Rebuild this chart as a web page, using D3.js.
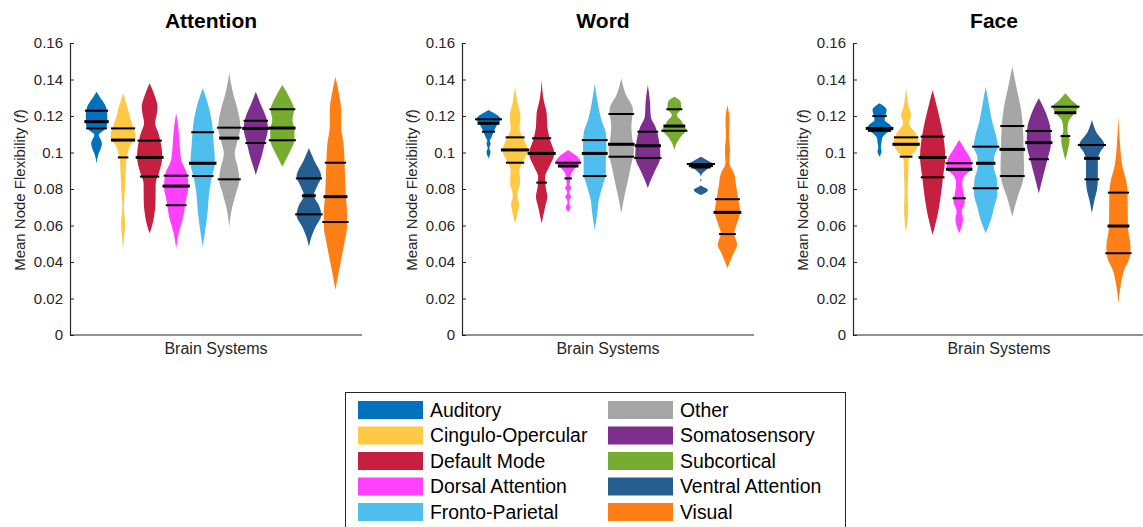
<!DOCTYPE html>
<html lang="en">
<head>
    <meta charset="UTF-8">
    <title>Mean Node Flexibility violins</title>
    <script src="https://d3js.org/d3.v7.min.js"></script>
    <style>
        body{ margin:0; background:#fff; }
        text{ font-family:"Liberation Sans", Arial, sans-serif; }
        .tick text{ fill:#262626; }
        .domain, .tick line{ stroke:#262626; }
    </style>
</head>
<body>
<script>
    // brain systems, in plot order
    const systems = ["Auditory", "Cingulo-Opercular", "Default Mode", "Dorsal Attention", "Fronto-Parietal",
        "Other", "Somatosensory", "Subcortical", "Ventral Attention", "Visual"];
    const colors = ["#0072BD", "#FFC845", "#C61F40", "#FF40FF", "#4DBEEE",
        "#A6A6A6", "#7E2F8E", "#77AC30", "#255E91", "#FF7F17"];
    const tasks = ["Attention", "Word", "Face"];
    const yTicks = [0, 0.02, 0.04, 0.06, 0.08, 0.1, 0.12, 0.14, 0.16];

    // violin outlines: [value, relative density] from bottom tip to top tip
    const attentionShapes = [
        [[0.094,0],[0.099,0.15],[0.103,0.38],[0.105,0.43],[0.1075,0.3],[0.1096,0.17],[0.112,0.55],[0.114,0.8],[0.117,0.85],[0.121,0.85],[0.125,0.75],[0.127,0.6],[0.130,0.3],[0.1333,0]],
        [[0.0457,0],[0.052,0.06],[0.058,0.14],[0.0612,0.16],[0.066,0.1],[0.070,0.06],[0.0722,0.07],[0.0813,0.16],[0.0904,0.21],[0.0975,0.3],[0.1032,0.53],[0.1087,1.0],[0.1142,0.8],[0.119,0.55],[0.1235,0.4],[0.128,0.2],[0.1324,0]],
        [[0.0557,0],[0.060,0.2],[0.0648,0.35],[0.074,0.47],[0.0831,0.48],[0.0886,0.73],[0.0977,1.0],[0.1065,0.85],[0.1105,0.7],[0.116,0.44],[0.1205,0.55],[0.1251,0.63],[0.129,0.5],[0.1336,0.27],[0.1379,0]],
        [[0.0475,0],[0.0557,0.2],[0.0648,0.56],[0.074,0.77],[0.0813,0.97],[0.0886,0.85],[0.0959,0.4],[0.105,0.27],[0.1142,0.16],[0.1215,0]],
        [[0.0484,0],[0.0593,0.24],[0.0685,0.4],[0.0776,0.5],[0.0868,0.73],[0.0941,0.97],[0.105,0.87],[0.1178,0.7],[0.127,0.4],[0.1352,0]],
        [[0.0593,0],[0.0703,0.24],[0.0776,0.53],[0.0849,0.8],[0.0904,0.72],[0.0996,0.43],[0.105,0.6],[0.1142,0.88],[0.1233,0.67],[0.1324,0.3],[0.1434,0]],
        [[0.0877,0],[0.0922,0.2],[0.0977,0.45],[0.105,0.7],[0.1132,0.96],[0.1196,0.8],[0.127,0.35],[0.1333,0]],
        [[0.0922,0],[0.0959,0.27],[0.1014,0.67],[0.1068,0.96],[0.1123,0.96],[0.1178,0.8],[0.1233,0.93],[0.1306,0.53],[0.137,0]],
        [[0.0484,0],[0.0539,0.2],[0.0593,0.53],[0.0658,0.98],[0.0703,0.84],[0.0767,0.4],[0.0813,0.64],[0.0868,0.98],[0.0959,0.4],[0.1023,0]],
        [[0.0247,0],[0.0338,0.24],[0.0411,0.45],[0.0502,0.7],[0.0593,0.92],[0.0667,0.93],[0.0758,0.83],[0.0868,0.76],[0.0959,0.72],[0.105,0.64],[0.1142,0.45],[0.1233,0.45],[0.1324,0.27],[0.1415,0]]
    ];
    const wordShapes = [
        [[0.0968,0],[0.1004,0.16],[0.1023,0.06],[0.105,0.16],[0.1065,0.1],[0.1078,0.2],[0.1114,0.4],[0.1151,0.67],[0.1182,0.95],[0.1196,0.85],[0.1215,0.45],[0.1233,0]],
        [[0.0612,0],[0.0667,0.2],[0.0722,0.32],[0.075,0.2],[0.0776,0.2],[0.0831,0.4],[0.0904,0.35],[0.0959,0.7],[0.1014,1.0],[0.1068,0.72],[0.1132,0.35],[0.1196,0.43],[0.127,0.2],[0.136,0]],
        [[0.0612,0],[0.0703,0.28],[0.0758,0.45],[0.0813,0.32],[0.0868,0.28],[0.0922,0.6],[0.0995,1.0],[0.1068,0.67],[0.1142,0.45],[0.1215,0.4],[0.1288,0.16],[0.1397,0]],
        [[0.0676,0],[0.0703,0.2],[0.0716,0.08],[0.073,0.06],[0.0744,0.12],[0.0758,0.24],[0.0772,0.1],[0.0785,0.08],[0.0804,0.24],[0.0825,0.12],[0.0849,0.15],[0.0886,0.24],[0.0922,0.65],[0.095,0.98],[0.0977,0.72],[0.1014,0]],
        [[0.0575,0],[0.0667,0.2],[0.074,0.32],[0.0813,0.6],[0.0886,0.88],[0.0959,0.88],[0.1032,0.93],[0.1105,0.88],[0.1178,0.53],[0.127,0.24],[0.1379,0]],
        [[0.0667,0],[0.0758,0.24],[0.0831,0.48],[0.0922,0.75],[0.1014,1.0],[0.1087,0.85],[0.1142,0.8],[0.1233,0.93],[0.1324,0.32],[0.1407,0]],
        [[0.0804,0],[0.0849,0.24],[0.0904,0.6],[0.0977,1.0],[0.1068,0.88],[0.1142,0.6],[0.1196,0.24],[0.1288,0.16],[0.137,0]],
        [[0.1014,0],[0.1059,0.24],[0.1096,0.62],[0.1123,0.97],[0.1145,0.75],[0.1169,0.6],[0.1205,0.2],[0.1242,0.56],[0.1278,0.5],[0.1306,0]],
        [[0.0767,0],[0.0795,0.56],[0.0822,0],[0.0840,0],[0.0848,0.06],[0.0856,0],[0.0865,0],[0.0886,0.12],[0.0913,0.56],[0.0937,1.0],[0.095,0.7],[0.0977,0]],
        [[0.0366,0],[0.0448,0.48],[0.0493,0.77],[0.0557,0.53],[0.0612,0.77],[0.0676,1.0],[0.074,0.88],[0.0813,0.7],[0.0886,0.52],[0.0941,0.16],[0.1014,0.2],[0.1087,0.12],[0.1178,0.16],[0.126,0]]
    ];
    const faceShapes = [
        [[0.0977,0],[0.1005,0.16],[0.1032,0.1],[0.1055,0.16],[0.1078,0.2],[0.1105,0.53],[0.1129,1.0],[0.1151,0.85],[0.1178,0.4],[0.12,0.45],[0.1233,0.56],[0.127,0]],
        [[0.0566,0],[0.063,0.12],[0.0703,0.16],[0.0776,0.12],[0.0868,0.16],[0.0959,0.2],[0.1004,0.67],[0.105,1.0],[0.1105,0.75],[0.116,0.24],[0.1205,0.4],[0.1251,0.2],[0.1306,0.08],[0.1352,0]],
        [[0.0548,0],[0.0685,0.47],[0.0776,0.67],[0.0868,0.83],[0.0977,1.0],[0.105,0.93],[0.1142,0.7],[0.1233,0.4],[0.1342,0]],
        [[0.0557,0],[0.0639,0.3],[0.0676,0.2],[0.073,0.45],[0.0785,0.32],[0.0831,0.24],[0.0877,0.48],[0.0913,1.0],[0.0959,0.93],[0.1014,0.48],[0.1068,0]],
        [[0.0557,0],[0.063,0.4],[0.0703,0.67],[0.0776,0.93],[0.0849,0.9],[0.0922,0.64],[0.0977,0.67],[0.1032,0.96],[0.1087,0.83],[0.1178,0.48],[0.127,0.24],[0.136,0]],
        [[0.0648,0],[0.0758,0.43],[0.0831,0.8],[0.0904,0.93],[0.1014,0.9],[0.1142,0.84],[0.1233,0.7],[0.136,0.32],[0.147,0]],
        [[0.0776,0],[0.0886,0.4],[0.0959,0.67],[0.105,0.96],[0.1123,0.93],[0.1215,0.57],[0.1297,0]],
        [[0.0959,0],[0.1014,0.2],[0.1068,0.33],[0.1123,0.16],[0.1169,0.24],[0.1215,0.73],[0.1251,1.0],[0.1288,0.47],[0.1324,0]],
        [[0.0667,0],[0.074,0.2],[0.0795,0.4],[0.0849,0.47],[0.0904,0.47],[0.0959,0.47],[0.1004,0.67],[0.1041,1.0],[0.1114,0.33],[0.1178,0]],
        [[0.0174,0],[0.0265,0.16],[0.0356,0.45],[0.0429,0.9],[0.0484,0.96],[0.0593,0.75],[0.0776,0.73],[0.0849,0.6],[0.0922,0.32],[0.105,0.12],[0.1196,0]]
    ];

    // quartiles per system: [q1, median, q3]
    const attentionQuartiles = [[0.1132,0.1169,0.1229],[0.0973,0.1068,0.1132],[0.0868,0.0973,0.1065],[0.0711,0.0816,0.0873],[0.0871,0.0941,0.1111],
        [0.0853,0.1079,0.1136],[0.1052,0.1132,0.1174],[0.1067,0.1134,0.1237],[0.0661,0.0763,0.0858],[0.0619,0.0758,0.0944]];
    const wordQuartiles = [[0.1114,0.116,0.1182],[0.0944,0.1014,0.1083],[0.0835,0.0995,0.1078],[0.0858,0.0926,0.0944],[0.0871,0.0995,0.1068],
        [0.0977,0.1045,0.1211],[0.097,0.1037,0.1114],[0.1119,0.1145,0.1237],[0.0918,0.0928,0.0937],[0.0553,0.0672,0.0744]];
    const faceQuartiles = [[0.1119,0.1132,0.12],[0.0977,0.1045,0.1083],[0.0864,0.0973,0.1087],[0.0749,0.0908,0.0941],[0.0804,0.0941,0.1032],
        [0.0871,0.1017,0.1145],[0.0963,0.1054,0.1118],[0.109,0.1218,0.1251],[0.0853,0.0968,0.1041],[0.0448,0.0597,0.078]];

    const shapes = [attentionShapes, wordShapes, faceShapes];
    const quartiles = [attentionQuartiles, wordQuartiles, faceQuartiles];

    const width = 1143;
    const height = 527;
    const panelLeft = [70, 462, 853];
    const panelW = 292;
    const halfW = 12.6;

    const svg = d3.select("body").append("svg")
        .attr("width", width)
        .attr("height", height);

    svg.append("rect").attr("width", width).attr("height", height).attr("fill", "#fff");

    const y = d3.scaleLinear().domain([0, 0.16]).range([335, 43]);
    const w = d3.scaleLinear().domain([0, 1]).range([0, halfW]);

    // linear lookup of density at a value, for quartile line lengths
    function densityAt(knots, v){
        for (let i = 0; i < knots.length - 1; i++) {
            const a = knots[i], b = knots[i + 1];
            if (v >= a[0] && v <= b[0]) {
                return a[1] + (b[1] - a[1]) * (v - a[0]) / (b[0] - a[0]);
            }
        }
        return 0;
    }

    tasks.forEach((task, t) => {
        const left = panelLeft[t];
        const x = d3.scaleLinear().domain([0, systems.length + 1]).range([left, left + panelW]);
        const g = svg.append("g");

        // y axis, ticks pointing in
        g.append("g")
            .attr("transform", `translate(${left},0)`)
            .call(d3.axisLeft(y).tickValues(yTicks)
                .tickFormat(d => String(+d.toFixed(2)))
                .tickSizeInner(-4).tickSizeOuter(0).tickPadding(7))
            .call(a => a.selectAll("text").attr("font-size", 15))
            .call(a => a.select(".domain").attr("stroke-width", 1.2));

        g.append("line")
            .attr("x1", left).attr("x2", left + panelW)
            .attr("y1", y(0)).attr("y2", y(0))
            .attr("stroke", "#262626").attr("stroke-width", 1.2);

        g.append("text")
            .attr("x", left + 141).attr("y", 28)
            .attr("text-anchor", "middle")
            .attr("font-size", 21).attr("font-weight", "bold")
            .text(task);

        g.append("text")
            .attr("x", left + 146).attr("y", 354)
            .attr("text-anchor", "middle")
            .attr("font-size", 16).attr("fill", "#262626")
            .text("Brain Systems");

        const ylab = g.append("text")
            .attr("transform", `translate(${left - 45},190) rotate(-90)`)
            .attr("text-anchor", "middle")
            .attr("font-size", 15).attr("fill", "#262626");
        ylab.append("tspan").text("Mean Node Flexibility (");
        ylab.append("tspan").attr("font-style", "italic").text("f");
        ylab.append("tspan").text(")");

        systems.forEach((s, i) => {
            const cx = x(i + 1);
            const knots = shapes[t][i];
            const area = d3.area()
                .curve(d3.curveMonotoneY)
                .y(d => y(d[0]))
                .x0(d => cx - w(d[1]))
                .x1(d => cx + w(d[1]));

            g.append("path")
                .datum(knots)
                .attr("d", area)
                .attr("fill", colors[i]);

            g.selectAll(null)
                .data(quartiles[t][i])
                .enter()
                .append("line")
                .attr("x1", d => cx - Math.max(w(densityAt(knots, d)) + 1.5, 3))
                .attr("x2", d => cx + Math.max(w(densityAt(knots, d)) + 1.5, 3))
                .attr("y1", d => y(d))
                .attr("y2", d => y(d))
                .attr("stroke", "#000")
                .attr("stroke-width", (d, k) => k === 1 ? 3 : 2);
        });
    });

    // legend, its bottom edge runs past the picture
    const legend = svg.append("g");
    legend.append("rect")
        .attr("x", 345.5).attr("y", 392.5)
        .attr("width", 500).attr("height", 145)
        .attr("fill", "#fff").attr("stroke", "#262626").attr("stroke-width", 1);

    const legendItems = legend.selectAll(".item")
        .data(systems)
        .enter()
        .append("g")
        .attr("class", "item")
        .attr("transform", (d, i) => `translate(${i < 5 ? 358 : 608},${410 + (i % 5) * 25.5})`);

    legendItems.append("rect")
        .attr("x", 0).attr("y", -9)
        .attr("width", 65).attr("height", 18)
        .attr("fill", (d, i) => colors[i]);

    legendItems.append("text")
        .attr("x", 72).attr("y", 0)
        .attr("dy", "0.35em")
        .attr("font-size", 19.4)
        .text(d => d);
</script>
</body>
</html>
